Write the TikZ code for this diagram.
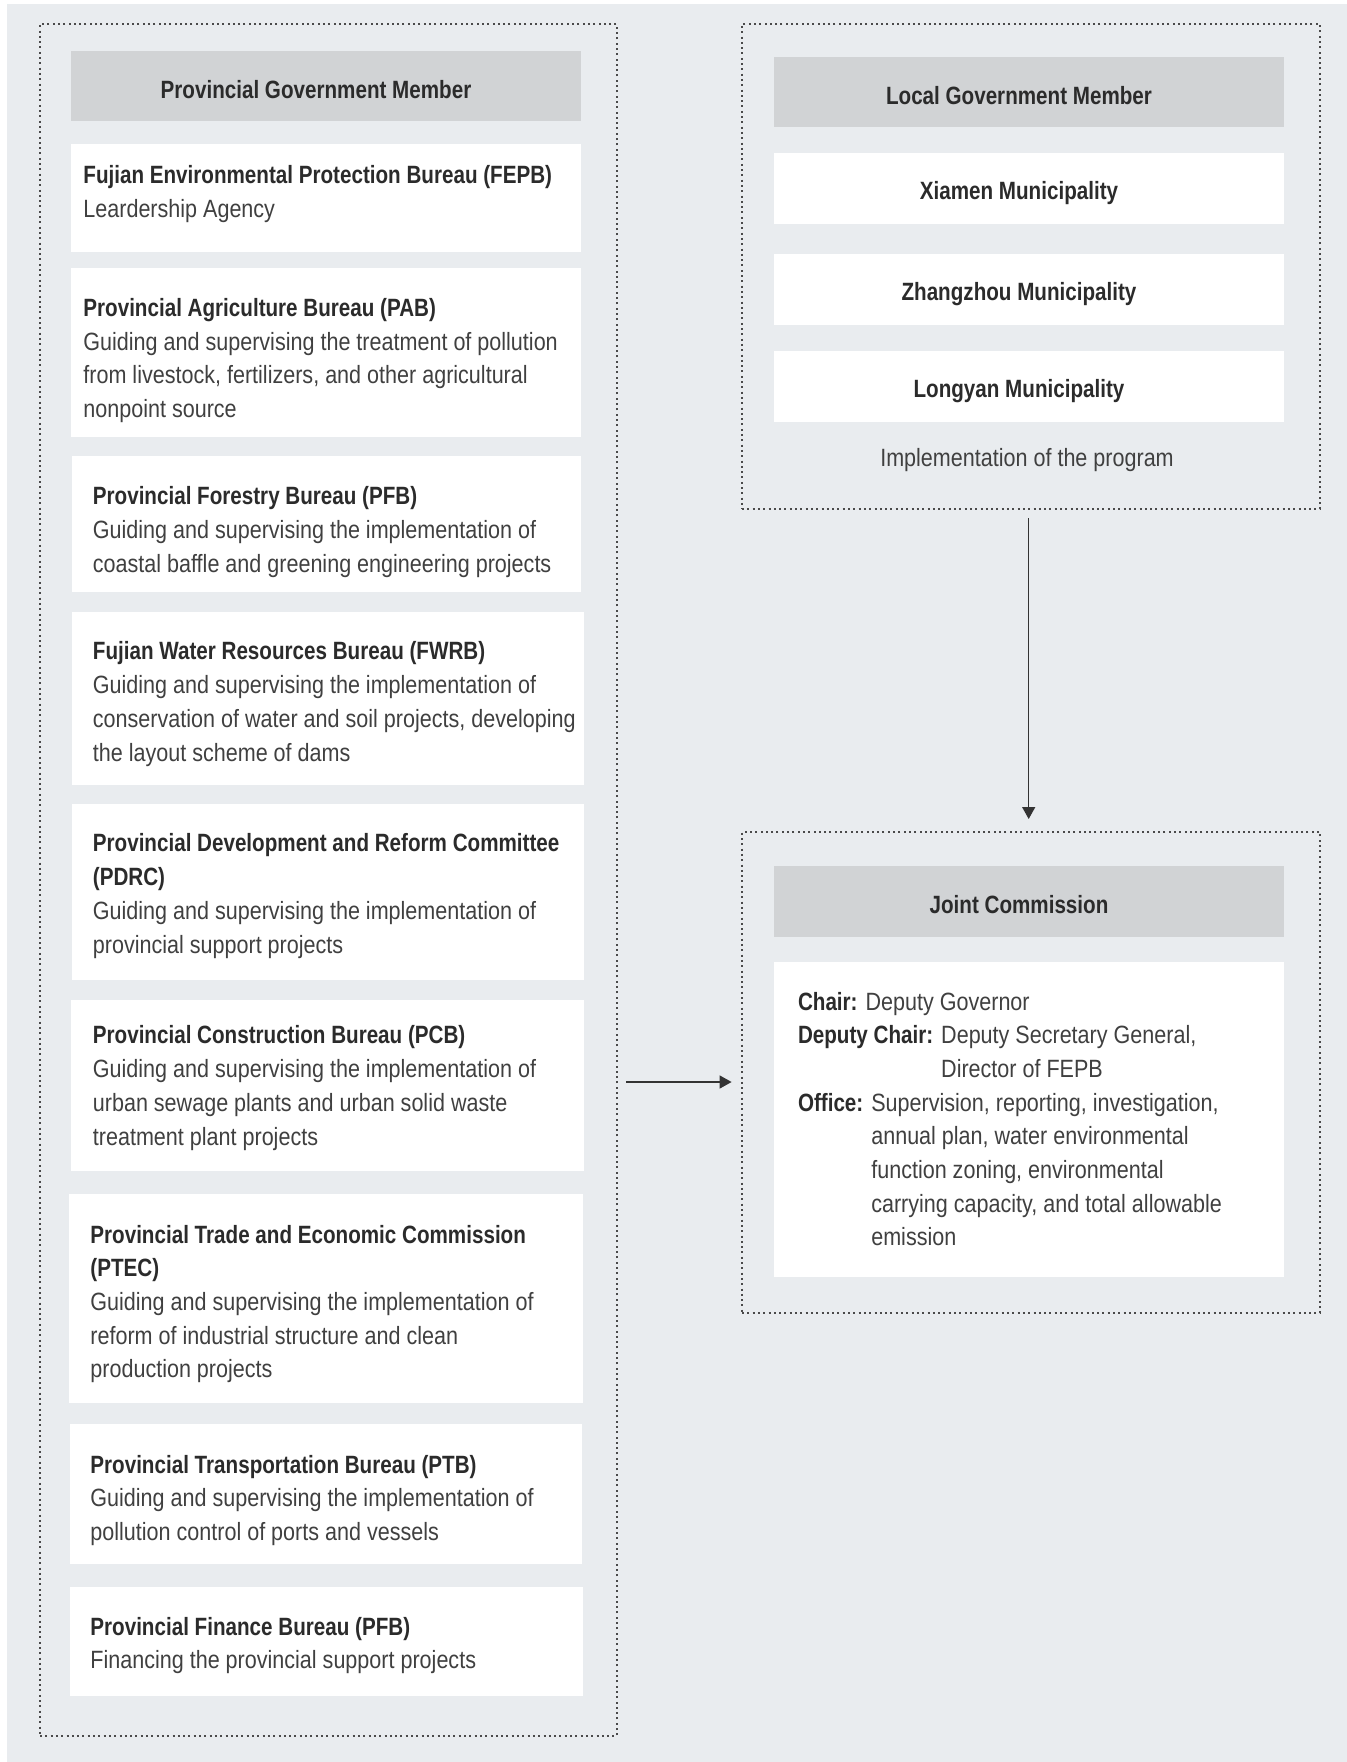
\documentclass[tikz,border=0pt]{standalone}
\usepackage{fontspec}
\setmainfont{Liberation Sans}[UprightFeatures={FakeStretch=0.862},BoldFeatures={FakeStretch=0.825}]
\usetikzlibrary{arrows.meta,fit}
\definecolor{bgc}{HTML}{E9ECEF}
\definecolor{hdr}{HTML}{D1D3D5}
\definecolor{txt}{HTML}{404040}
\definecolor{btxt}{HTML}{2B2B2B}
\definecolor{dotc}{HTML}{4A4A4A}
\definecolor{arrc}{HTML}{333333}
\newcommand{\ttl}[1]{\textcolor{btxt}{\textbf{#1}}}
\tikzset{
  dotbox/.style={draw=dotc,line width=1pt,dash pattern=on 1pt off 1.65pt,inner sep=0pt},
  hdrbox/.style={fill=hdr,inner sep=0pt},
  whitebox/.style={fill=white,inner sep=0pt},
  txtnode/.style={inner sep=0pt,align=left,text=txt,font=\fontsize{12.5}{16.85}\selectfont},
  ctrnode/.style={inner sep=0pt,align=center,text=txt,font=\fontsize{12.5}{16.85}\selectfont},
  arr/.style={draw=arrc,line width=0.7pt,-{Triangle[length=6pt,width=6.5pt]}}
}
\begin{document}
\begin{tikzpicture}[x=0.5pt,y=-0.5pt]
\useasboundingbox (0,0) rectangle (1347,1762);
\fill[bgc] (7,4) rectangle (1347,1762);
% left group
\node[dotbox,fit={(40,24) (617,1736)}] (left) {};
\node[hdrbox,fit={(71,51) (581,121)}] (phdr) {};
\node[ctrnode] (phdrt) at (316,89.5) {\ttl{Provincial Government Member}};
\node[whitebox,fit={(71,144) (581,252)}] (b1) {};
\node[txtnode,anchor=west] (t1) at (83,194) {\ttl{Fujian Environmental Protection Bureau (FEPB)}\\Leardership Agency};
\node[whitebox,fit={(71,268) (581,437)}] (b2) {};
\node[txtnode,anchor=west] (t2) at (83,360.5) {\ttl{Provincial Agriculture Bureau (PAB)}\\Guiding and supervising the treatment of pollution\\from livestock, fertilizers, and other agricultural\\nonpoint source};
\node[whitebox,fit={(72,456) (581,592)}] (b3) {};
\node[txtnode,anchor=west] (t3) at (92.5,532) {\ttl{Provincial Forestry Bureau (PFB)}\\Guiding and supervising the implementation of\\coastal baffle and greening engineering projects};
\node[whitebox,fit={(72,612) (584,785)}] (b4) {};
\node[txtnode,anchor=west] (t4) at (92.5,704) {\ttl{Fujian Water Resources Bureau (FWRB)}\\Guiding and supervising the implementation of\\conservation of water and soil projects, developing\\the layout scheme of dams};
\node[whitebox,fit={(72,804) (584,980)}] (b5) {};
\node[txtnode,anchor=west] (t5) at (92.5,896) {\ttl{Provincial Development and Reform Committee}\\\ttl{(PDRC)}\\Guiding and supervising the implementation of\\provincial support projects};
\node[whitebox,fit={(71,1000) (584,1171)}] (b6) {};
\node[txtnode,anchor=west] (t6) at (92.5,1088) {\ttl{Provincial Construction Bureau (PCB)}\\Guiding and supervising the implementation of\\urban sewage plants and urban solid waste\\treatment plant projects};
\node[whitebox,fit={(69,1194) (583,1403)}] (b7) {};
\node[txtnode,anchor=west] (t7) at (90,1304) {\ttl{Provincial Trade and Economic Commission}\\\ttl{(PTEC)}\\Guiding and supervising the implementation of\\reform of industrial structure and clean\\production projects};
\node[whitebox,fit={(70,1424) (582,1564)}] (b8) {};
\node[txtnode,anchor=west] (t8) at (90,1500.5) {\ttl{Provincial Transportation Bureau (PTB)}\\Guiding and supervising the implementation of\\pollution control of ports and vessels};
\node[whitebox,fit={(70,1587) (583,1696)}] (b9) {};
\node[txtnode,anchor=west] (t9) at (90,1645.5) {\ttl{Provincial Finance Bureau (PFB)}\\Financing the provincial support projects};
% local group
\node[dotbox,fit={(742,24) (1320,509)}] (local) {};
\node[hdrbox,fit={(774,57) (1284,127)}] (lhdr) {};
\node[ctrnode] (lhdrt) at (1019,96) {\ttl{Local Government Member}};
\node[whitebox,fit={(774,153) (1284,224)}] (m1) {};
\node[ctrnode] (m1t) at (1019,193) {\ttl{Xiamen Municipality}};
\node[whitebox,fit={(774,254) (1284,325)}] (m2) {};
\node[ctrnode] (m2t) at (1019,294) {\ttl{Zhangzhou Municipality}};
\node[whitebox,fit={(774,350.5) (1284,422)}] (m3) {};
\node[ctrnode] (m3t) at (1019,391) {\ttl{Longyan Municipality}};
\node[ctrnode] (impl) at (1027,460.5) {Implementation of the program};
% joint commission
\node[dotbox,fit={(742,832) (1320,1313)}] (joint) {};
\node[hdrbox,fit={(774,866) (1284,937)}] (jhdr) {};
\node[ctrnode] (jhdrt) at (1019,905) {\ttl{Joint Commission}};
\node[whitebox,fit={(774,962) (1284,1277)}] (jbox) {};
\node[txtnode,anchor=west] (jt) at (797.6,1119) {\ttl{Chair:} Deputy Governor\\
\ttl{Deputy Chair:} Deputy Secretary General,\\
\phantom{\ttl{Deputy Chair:} }Director of FEPB\\
\ttl{Office:} Supervision, reporting, investigation,\\
\phantom{\ttl{Office:} }annual plan, water environmental\\
\phantom{\ttl{Office:} }function zoning, environmental\\
\phantom{\ttl{Office:} }carrying capacity, and total allowable\\
\phantom{\ttl{Office:} }emission};
% connectors
\coordinate (ay) at (0,1082);
\coordinate (ax) at (1028.7,0);
\draw[arr,shorten <=4pt,shorten >=4.7pt] (left.east |- ay) -- (joint.west |- ay);
\draw[arr,shorten <=4pt,shorten >=6pt] (ax |- local.south) -- (ax |- joint.north);
\end{tikzpicture}
\end{document}
